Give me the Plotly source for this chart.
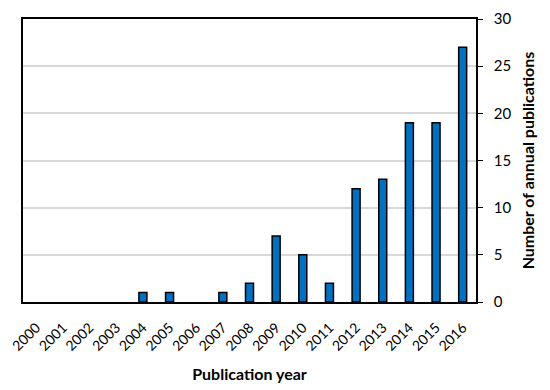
import plotly.graph_objects as go

years = [str(y) for y in range(2000, 2017)]
counts = [0, 0, 0, 0, 1, 1, 0, 1, 2, 7, 5, 2, 12, 13, 19, 19, 27]
y_ticks = [0, 5, 10, 15, 20, 25, 30]

line_widths = [0 if v == 0 else 1.5 for v in counts]

fig = go.Figure(go.Bar(
    x=years, y=counts, width=0.3,
    marker=dict(color="#0070C0", line=dict(color="black", width=line_widths)),
))

font_family = "Lato, Open Sans, sans-serif"
fig.update_layout(
    width=542, height=382,
    margin=dict(l=15, r=74, t=11, b=88, autoexpand=False),
    plot_bgcolor="white", paper_bgcolor="white",
    showlegend=False,
    font=dict(family=font_family, color="black", size=14),
    xaxis=dict(
        type="category", tickangle=-45, showline=True, linecolor="black", linewidth=2,
        mirror=True, ticks="", showgrid=False, automargin=False,
        title=dict(text="<b>Publication year</b>", font=dict(size=16), standoff=16),
        tickfont=dict(size=14), ticklabelstandoff=10,
    ),
    yaxis=dict(
        side="right", range=[0, 30], tickvals=y_ticks, showline=True, linecolor="black",
        linewidth=1.5, mirror=True, ticks="outside", ticklen=5, tickcolor="black",
        showgrid=True, gridcolor="#D9D9D9", gridwidth=1.5, zeroline=False, automargin=False,
        title=dict(text="<b>Number of annual publications</b>", font=dict(size=16), standoff=12),
        tickfont=dict(size=15), ticklabelstandoff=8,
    ),
)
fig.write_html("out.html")
